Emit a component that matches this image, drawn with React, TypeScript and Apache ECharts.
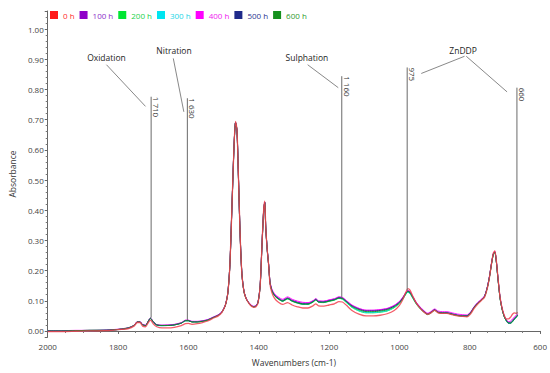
import React, { useEffect, useRef } from 'react';
import * as echarts from 'echarts';

// Wavenumbers (cm-1), descending
const wavenumbers = [
  2000, 1960, 1920, 1880, 1840, 1810, 1790, 1770, 1755, 1745,
  1738, 1730, 1722, 1715, 1708, 1700, 1690, 1675, 1660, 1640,
  1620, 1608, 1600, 1590, 1575, 1560, 1545, 1530, 1515, 1505,
  1495, 1488, 1482, 1476, 1470, 1466, 1462, 1458, 1453, 1448,
  1442, 1435, 1425, 1415, 1408, 1402, 1396, 1391, 1386, 1383,
  1380, 1376, 1372, 1368, 1363, 1355, 1345, 1332, 1318, 1305,
  1290, 1275, 1260, 1245, 1238, 1230, 1215, 1200, 1185, 1172,
  1162, 1150, 1135, 1115, 1095, 1075, 1055, 1035, 1015, 1000,
  990, 982, 976, 970, 962, 952, 940, 930, 920, 910,
  900, 890, 878, 865, 850, 835, 820, 808, 798, 788,
  778, 768, 758, 750, 744, 738, 733, 729, 725, 720,
  714, 708, 702, 696, 690, 684, 678, 673, 668, 664,
];

const abs0h = [
  -0.002, -0.002, -0.001, 0.0, 0.001, 0.003, 0.005, 0.008, 0.016, 0.028,
  0.028, 0.016, 0.014, 0.026, 0.036, 0.024, 0.014, 0.01, 0.01, 0.012,
  0.018, 0.024, 0.025, 0.022, 0.024, 0.028, 0.033, 0.042, 0.05, 0.061,
  0.085, 0.125, 0.22, 0.42, 0.622, 0.694, 0.668, 0.52, 0.32, 0.19,
  0.13, 0.105, 0.087, 0.078, 0.08, 0.093, 0.15, 0.28, 0.402, 0.43,
  0.342, 0.27, 0.22, 0.155, 0.128, 0.108, 0.096, 0.088, 0.094, 0.086,
  0.08, 0.076, 0.076, 0.084, 0.09, 0.083, 0.082, 0.086, 0.09, 0.097,
  0.096, 0.084, 0.068, 0.056, 0.05, 0.05, 0.052, 0.057, 0.068, 0.085,
  0.105, 0.128, 0.14, 0.135, 0.115, 0.092, 0.073, 0.062, 0.055, 0.06,
  0.068, 0.06, 0.058, 0.058, 0.054, 0.05, 0.048, 0.047, 0.056, 0.074,
  0.088, 0.1, 0.112, 0.142, 0.178, 0.225, 0.258, 0.265, 0.238, 0.178,
  0.112, 0.075, 0.052, 0.04, 0.04, 0.046, 0.056, 0.06, 0.058, 0.062,
];

const abs100h = [
  0.0, -0.001, 0.001, 0.001, 0.002, 0.004, 0.006, 0.01, 0.018, 0.031,
  0.031, 0.021, 0.019, 0.031, 0.043, 0.031, 0.021, 0.019, 0.019, 0.021,
  0.027, 0.035, 0.035, 0.031, 0.031, 0.033, 0.037, 0.045, 0.053, 0.063,
  0.086, 0.126, 0.221, 0.421, 0.621, 0.691, 0.666, 0.521, 0.321, 0.191,
  0.131, 0.106, 0.089, 0.081, 0.083, 0.096, 0.151, 0.281, 0.401, 0.426,
  0.341, 0.271, 0.221, 0.162, 0.137, 0.12, 0.11, 0.102, 0.11, 0.102,
  0.096, 0.092, 0.092, 0.1, 0.106, 0.099, 0.098, 0.102, 0.106, 0.112,
  0.11, 0.099, 0.085, 0.074, 0.068, 0.068, 0.07, 0.074, 0.084, 0.097,
  0.111, 0.126, 0.133, 0.129, 0.113, 0.093, 0.076, 0.065, 0.057, 0.063,
  0.071, 0.063, 0.061, 0.061, 0.057, 0.053, 0.051, 0.051, 0.061, 0.079,
  0.093, 0.103, 0.116, 0.146, 0.181, 0.226, 0.256, 0.263, 0.236, 0.176,
  0.111, 0.073, 0.049, 0.036, 0.029, 0.03, 0.036, 0.044, 0.049, 0.055,
];

const abs200h = [
  0.001, 0.0, 0.001, 0.002, 0.003, 0.004, 0.007, 0.011, 0.019, 0.03,
  0.03, 0.02, 0.018, 0.03, 0.041, 0.03, 0.02, 0.018, 0.019, 0.021,
  0.027, 0.034, 0.034, 0.03, 0.03, 0.032, 0.036, 0.044, 0.052, 0.062,
  0.085, 0.125, 0.22, 0.42, 0.62, 0.69, 0.665, 0.52, 0.32, 0.19,
  0.13, 0.105, 0.088, 0.08, 0.082, 0.095, 0.15, 0.28, 0.4, 0.425,
  0.34, 0.27, 0.22, 0.16, 0.134, 0.116, 0.106, 0.098, 0.106, 0.098,
  0.092, 0.088, 0.088, 0.096, 0.102, 0.095, 0.094, 0.098, 0.102, 0.108,
  0.105, 0.093, 0.078, 0.066, 0.06, 0.06, 0.062, 0.066, 0.077, 0.091,
  0.106, 0.121, 0.128, 0.124, 0.108, 0.089, 0.072, 0.062, 0.054, 0.06,
  0.068, 0.061, 0.059, 0.059, 0.055, 0.051, 0.049, 0.049, 0.059, 0.077,
  0.091, 0.101, 0.114, 0.144, 0.179, 0.224, 0.254, 0.261, 0.234, 0.174,
  0.109, 0.071, 0.047, 0.033, 0.025, 0.025, 0.031, 0.039, 0.045, 0.051,
];

const abs300h = [
  0.0, 0.0, 0.0, 0.001, 0.002, 0.003, 0.006, 0.01, 0.018, 0.029,
  0.029, 0.019, 0.017, 0.029, 0.041, 0.029, 0.019, 0.017, 0.018, 0.02,
  0.026, 0.034, 0.034, 0.031, 0.031, 0.033, 0.037, 0.045, 0.053, 0.063,
  0.086, 0.126, 0.221, 0.421, 0.621, 0.691, 0.666, 0.521, 0.321, 0.191,
  0.131, 0.106, 0.089, 0.081, 0.083, 0.096, 0.151, 0.281, 0.401, 0.426,
  0.341, 0.271, 0.221, 0.161, 0.135, 0.117, 0.107, 0.099, 0.107, 0.099,
  0.093, 0.089, 0.089, 0.097, 0.103, 0.096, 0.095, 0.099, 0.103, 0.109,
  0.106, 0.094, 0.079, 0.067, 0.061, 0.061, 0.063, 0.067, 0.078, 0.092,
  0.107, 0.122, 0.129, 0.125, 0.109, 0.09, 0.073, 0.063, 0.055, 0.061,
  0.069, 0.062, 0.06, 0.06, 0.056, 0.052, 0.05, 0.05, 0.06, 0.078,
  0.092, 0.102, 0.115, 0.145, 0.18, 0.225, 0.255, 0.262, 0.235, 0.175,
  0.11, 0.072, 0.048, 0.034, 0.026, 0.027, 0.033, 0.04, 0.046, 0.052,
];

const abs400h = [
  0.001, 0.001, 0.002, 0.002, 0.003, 0.005, 0.007, 0.011, 0.019, 0.031,
  0.031, 0.021, 0.019, 0.031, 0.042, 0.031, 0.021, 0.019, 0.02, 0.022,
  0.028, 0.036, 0.036, 0.032, 0.032, 0.034, 0.038, 0.046, 0.054, 0.064,
  0.086, 0.126, 0.221, 0.421, 0.621, 0.691, 0.666, 0.521, 0.321, 0.191,
  0.131, 0.106, 0.09, 0.082, 0.084, 0.097, 0.152, 0.282, 0.402, 0.427,
  0.342, 0.272, 0.222, 0.164, 0.14, 0.123, 0.113, 0.105, 0.113, 0.105,
  0.099, 0.095, 0.094, 0.101, 0.107, 0.1, 0.099, 0.103, 0.107, 0.113,
  0.111, 0.1, 0.086, 0.075, 0.069, 0.069, 0.071, 0.075, 0.085, 0.098,
  0.113, 0.127, 0.134, 0.13, 0.114, 0.095, 0.078, 0.067, 0.059, 0.065,
  0.073, 0.066, 0.064, 0.064, 0.06, 0.056, 0.054, 0.053, 0.063, 0.08,
  0.094, 0.104, 0.117, 0.147, 0.182, 0.227, 0.257, 0.264, 0.237, 0.177,
  0.112, 0.074, 0.05, 0.037, 0.031, 0.033, 0.04, 0.047, 0.052, 0.057,
];

const abs500h = [
  0.0, 0.0, 0.001, 0.002, 0.002, 0.004, 0.006, 0.01, 0.018, 0.03,
  0.03, 0.02, 0.018, 0.03, 0.042, 0.03, 0.02, 0.018, 0.018, 0.02,
  0.026, 0.034, 0.034, 0.03, 0.03, 0.032, 0.036, 0.044, 0.052, 0.062,
  0.085, 0.125, 0.22, 0.42, 0.62, 0.69, 0.665, 0.52, 0.32, 0.19,
  0.13, 0.105, 0.088, 0.08, 0.082, 0.095, 0.15, 0.28, 0.4, 0.425,
  0.34, 0.27, 0.22, 0.16, 0.135, 0.118, 0.108, 0.1, 0.108, 0.1,
  0.094, 0.09, 0.09, 0.098, 0.104, 0.097, 0.096, 0.1, 0.104, 0.11,
  0.108, 0.097, 0.083, 0.072, 0.066, 0.066, 0.068, 0.072, 0.082, 0.095,
  0.11, 0.125, 0.132, 0.128, 0.112, 0.092, 0.075, 0.064, 0.056, 0.062,
  0.07, 0.062, 0.06, 0.06, 0.056, 0.052, 0.05, 0.05, 0.06, 0.078,
  0.092, 0.102, 0.115, 0.145, 0.18, 0.225, 0.255, 0.262, 0.235, 0.175,
  0.11, 0.072, 0.048, 0.034, 0.026, 0.026, 0.032, 0.04, 0.046, 0.052,
];

const abs600h = [
  0.0, 0.0, 0.001, 0.002, 0.002, 0.004, 0.006, 0.01, 0.018, 0.03,
  0.03, 0.02, 0.018, 0.03, 0.042, 0.03, 0.02, 0.018, 0.018, 0.02,
  0.026, 0.034, 0.034, 0.03, 0.03, 0.032, 0.036, 0.044, 0.052, 0.062,
  0.085, 0.125, 0.22, 0.42, 0.62, 0.69, 0.665, 0.52, 0.32, 0.19,
  0.13, 0.105, 0.088, 0.08, 0.082, 0.095, 0.15, 0.28, 0.4, 0.425,
  0.34, 0.27, 0.22, 0.16, 0.135, 0.117, 0.107, 0.099, 0.107, 0.099,
  0.093, 0.089, 0.089, 0.097, 0.103, 0.096, 0.095, 0.099, 0.103, 0.109,
  0.107, 0.096, 0.081, 0.07, 0.064, 0.064, 0.066, 0.07, 0.08, 0.093,
  0.108, 0.124, 0.131, 0.127, 0.111, 0.091, 0.074, 0.063, 0.055, 0.061,
  0.069, 0.061, 0.059, 0.059, 0.055, 0.051, 0.049, 0.049, 0.059, 0.077,
  0.091, 0.101, 0.114, 0.144, 0.179, 0.224, 0.254, 0.261, 0.234, 0.174,
  0.109, 0.071, 0.047, 0.034, 0.027, 0.027, 0.033, 0.04, 0.046, 0.052,
];

const seriesNames = ['0 h', '100 h', '200 h', '300 h', '400 h', '500 h', '600 h'];
const seriesColors = ['#ff1a1a', '#8e00c8', '#00e632', '#00e5f0', '#ff00ff', '#1f2a8a', '#15901e'];
const legendTextColors = ['#ff2a2a', '#8b2fc9', '#22d24a', '#1ad6e6', '#f020f0', '#2a3390', '#2f9a2f'];

const yTickLabels = ['0.00', '0.10', '0.20', '0.30', '0.40', '0.50', '0.60', '0.70', '0.80', '0.90', '1.00'];
const xTickLabels = ['600', '800', '1000', '1200', '1400', '1600', '1800', '2000'];

// Assignment lines: wavenumber position, bottom & top absorbance
const peakLabels = ['1 710', '1 630', '1 160', '975', '660'];
const peakPositions = [1706, 1603, 1164, 978, 666];
const peakBottoms = [0.044, 0.036, 0.11, 0.135, 0.054];
const peakTops = [0.776, 0.771, 0.844, 0.873, 0.806];

// Group labels
const groupLabels = ['Oxidation', 'Nitration', 'Sulphation', 'ZnDDP'];
const groupPositions = [1833, 1641, 1263, 819];
const groupValues = [0.906, 0.93, 0.905, 0.93];

// Leader lines [w1, v1, w2, v2]
const leaderLines = [
  [1833, 0.882, 1722, 0.744],
  [1643, 0.903, 1613, 0.726],
  [1261, 0.882, 1174, 0.806],
  [815, 0.91, 938, 0.853],
  [810, 0.91, 694, 0.792],
];

export default function App() {
  const ref = useRef<HTMLDivElement>(null);
  useEffect(() => {
    document.body.style.margin = '0';
    const chart = echarts.init(ref.current as HTMLDivElement, undefined, { renderer: 'svg' });
    const allData = [abs0h, abs100h, abs200h, abs300h, abs400h, abs500h, abs600h];
    const font = '"Open Sans", "DejaVu Sans", sans-serif';
    const series = seriesNames.map((name, i) => ({
      name,
      type: 'line',
      data: wavenumbers.map((w, j) => [w, allData[i][j]]),
      symbol: 'none',
      smooth: 0.25,
      z: i === 0 ? 9 : 2 + i,
      itemStyle: { color: seriesColors[i] },
      lineStyle: {
        color: i === 0 ? '#f2404f' : seriesColors[i],
        width: i === 0 ? 1.3 : 0.9,
        opacity: i === 0 ? 0.85 : 1,
      },
    }));
    chart.setOption({
      animation: false,
      textStyle: { fontFamily: font },
      grid: { left: 41, right: 9, top: 11, bottom: 36, containLabel: false },
      legend: {
        left: 50,
        top: 11,
        icon: 'rect',
        itemWidth: 8,
        itemHeight: 8,
        itemGap: 5,
        padding: 0,
        textStyle: { fontSize: 8, fontFamily: font },
        data: seriesNames.map((n, i) => ({ name: n, textStyle: { color: legendTextColors[i] } })),
      },
      xAxis: {
        type: 'value',
        inverse: true,
        min: 600,
        max: 2000,
        interval: 200,
        name: 'Wavenumbers (cm-1)',
        nameLocation: 'middle',
        nameGap: 21,
        nameTextStyle: { fontSize: 8.5, color: '#333', fontFamily: font },
        axisLine: { lineStyle: { color: '#666', width: 1 } },
        axisTick: { length: 3, lineStyle: { color: '#666' } },
        minorTick: { show: true, splitNumber: 4, length: 2, lineStyle: { color: '#777' } },
        axisLabel: {
          fontSize: 8,
          color: '#444',
          margin: 5,
          fontFamily: font,
          formatter: (v: number) => {
            const idx = Math.round((v - 600) / 200);
            return xTickLabels[idx] ?? '';
          },
        },
        splitLine: { show: false },
      },
      yAxis: {
        type: 'value',
        min: -0.02,
        max: 1.06,
        splitNumber: 10,
        name: 'Absorbance',
        nameLocation: 'middle',
        nameGap: 29,
        nameTextStyle: { fontSize: 8.5, color: '#333', fontFamily: font },
        axisLine: { show: true, lineStyle: { color: '#666', width: 1 } },
        axisTick: { show: true, length: 3, lineStyle: { color: '#666' } },
        minorTick: { show: true, splitNumber: 5, length: 2, lineStyle: { color: '#777' } },
        axisLabel: {
          fontSize: 8,
          color: '#444',
          margin: 4,
          fontFamily: font,
          showMinLabel: false,
          showMaxLabel: false,
          formatter: (v: number) => {
            const idx = Math.round(v * 10);
            if (Math.abs(v * 10 - idx) > 1e-6 || idx < 0 || idx >= yTickLabels.length) return '';
            return yTickLabels[idx];
          },
        },
        splitLine: { show: false },
      },
      series,
    });

    const px = (w: number, v: number) => chart.convertToPixel({ xAxisIndex: 0, yAxisIndex: 0 }, [w, v]) as number[];
    const graphics: any[] = [];
    peakPositions.forEach((w, i) => {
      const b = px(w, peakBottoms[i]);
      const t = px(w, peakTops[i]);
      graphics.push({
        type: 'line',
        z: 100,
        shape: { x1: b[0], y1: b[1], x2: t[0], y2: t[1] },
        style: { stroke: '#6a6a6a', lineWidth: 1 },
      });
      graphics.push({
        type: 'text',
        z: 100,
        x: t[0] + 1.5,
        y: t[1],
        rotation: -Math.PI / 2,
        style: {
          text: peakLabels[i],
          fontSize: 8,
          fontFamily: font,
          fill: '#333',
          textAlign: 'left',
          textVerticalAlign: 'bottom',
        },
      });
    });
    leaderLines.forEach((l) => {
      const a = px(l[0], l[1]);
      const b = px(l[2], l[3]);
      graphics.push({
        type: 'line',
        z: 100,
        shape: { x1: a[0], y1: a[1], x2: b[0], y2: b[1] },
        style: { stroke: '#6a6a6a', lineWidth: 0.8 },
      });
    });
    groupPositions.forEach((w, i) => {
      const p = px(w, groupValues[i]);
      graphics.push({
        type: 'text',
        z: 100,
        x: p[0],
        y: p[1],
        style: {
          text: groupLabels[i],
          fontSize: 8.5,
          fontFamily: font,
          fill: '#1e1e1e',
          textAlign: 'center',
          textVerticalAlign: 'middle',
        },
      });
    });
    chart.setOption({ graphic: graphics });

    return () => chart.dispose();
  }, []);
  return <div ref={ref} style={{ width: 550, height: 373 }} />;
}
